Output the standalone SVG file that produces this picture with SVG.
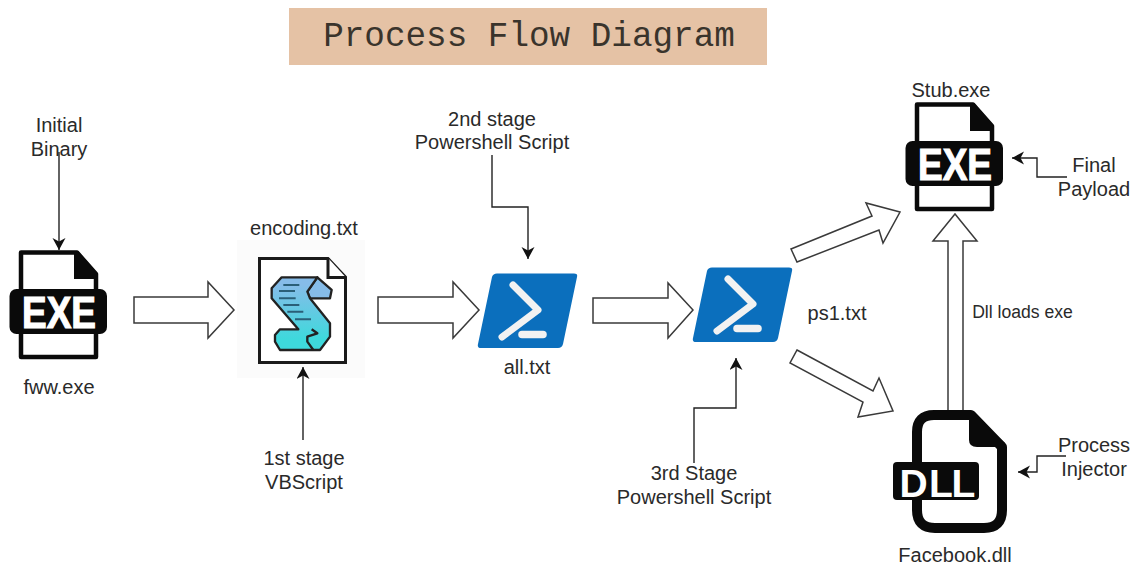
<svg xmlns="http://www.w3.org/2000/svg" xmlns:xlink="http://www.w3.org/1999/xlink" width="1137" height="565" viewBox="0 0 1137 565">
<style>
text{font-family:"Liberation Sans",Arial,sans-serif;font-size:20px;fill:#2a2a2a;text-anchor:middle}
.title{font-family:"Liberation Mono","Courier New",monospace;font-size:34.3px;fill:#3a342c}
.block{fill:#fff;stroke:#3a3a3a;stroke-width:1.5;stroke-linejoin:miter}
.thin{fill:none;stroke:#222;stroke-width:1.4}
.badge{font-weight:bold;fill:#fff;font-family:"Liberation Sans",Arial,sans-serif}
</style>
<defs>
<marker id="ah" markerUnits="userSpaceOnUse" markerWidth="14" markerHeight="14" refX="12" refY="6.500" orient="auto">
<path d="M0 0L12 6.500L0 13L3.500 6.500Z" fill="#111"/>
</marker>
<linearGradient id="sg" x1="0" y1="0" x2="0" y2="1">
<stop offset="0.1" stop-color="#86bce9"/><stop offset="0.85" stop-color="#3ed9dc"/>
</linearGradient>
<g id="exeicon">
<path d="M21 252.500H77L96 274V357H21Z" fill="#fff" stroke="#0a0a0a" stroke-width="4.500" stroke-linejoin="round"/>
<path d="M74 251H78L98 274V279H74Z" fill="#0a0a0a"/>
<rect x="9.500" y="289" width="97.500" height="45" rx="7" fill="#0a0a0a"/>
<text class="badge" x="59" y="328" style="font-size:45px;fill:#fff;font-weight:bold;stroke:#fff;stroke-width:1.2" textLength="74" lengthAdjust="spacingAndGlyphs">EXE</text>
</g>
<g id="psicon">
<path d="M497 273.500H574Q578 273.500 577 277L563 344Q562 348 558 348H481Q477 348 478 344L492 277Q493 273.500 497 273.500Z" fill="#0b6fbd"/>
<path d="M513 285L538 310L502 337" fill="none" stroke="#f2f2f2" stroke-width="7" stroke-linecap="round" stroke-linejoin="round"/>
<path d="M522 334.500H543" fill="none" stroke="#f2f2f2" stroke-width="7.500" stroke-linecap="round"/>
</g>
</defs>
<rect width="1137" height="565" fill="#fff"/>
<g id="title">
<rect x="289" y="8" width="478" height="57" fill="#e5c2a5"/>
<text class="title" x="529" y="46">Process Flow Diagram</text>
</g>
<g id="fww">
<use href="#exeicon"/>
<text x="59" y="394">fww.exe</text>
<text x="59" y="132">Initial</text>
<text x="59" y="156">Binary</text>
</g>
<g id="encoding">
<rect x="237" y="240" width="128" height="138" fill="#fbfbfb"/>
<path d="M259.500 258.500H328L345.500 277V362.500H259.500Z" fill="#fff" stroke="#1a1a1a" stroke-width="3"/>
<path d="M328 258V277.500H346" fill="#fff" stroke="#1a1a1a" stroke-width="3"/>
<g transform="translate(230 230) scale(.3333)" stroke="#222" stroke-width="7" stroke-linejoin="round">
<path d="M262 142L305 180L300 205H240L232 185Z" fill="#86bce9"/>
<path d="M155 142H262L232 185L240 205L300 280V320L270 360H150L135 335V315L150 298H205L125 205V175Z" fill="url(#sg)"/>
<path d="M245 298L262 310L232 320V335L250 360" fill="none"/>
<path d="M160 165H208M147 183H195M147 205H197M160 225H208M172 245H220M195 268H243" fill="none" stroke="#2a5f78" stroke-width="6"/>
</g>
<text x="304" y="235">encoding.txt</text>
<text x="304" y="465">1st stage</text>
<text x="304" y="489">VBScript</text>
</g>
<g id="all">
<use href="#psicon"/>
<text x="492" y="126">2nd stage</text>
<text x="492" y="149">Powershell Script</text>
<text x="527" y="374">all.txt</text>
</g>
<g id="ps1">
<use href="#psicon" transform="translate(215 -6)"/>
<text x="837" y="320">ps1.txt</text>
<text x="694" y="480">3rd Stage</text>
<text x="694" y="504">Powershell Script</text>
</g>
<g id="stub">
<use href="#exeicon" transform="translate(896 -148)"/>
<text x="951" y="97">Stub.exe</text>
<text x="1094" y="172">Final</text>
<text x="1094" y="196">Payload</text>
<text x="1022.500" y="318" style="font-size:17.600px">Dll loads exe</text>
</g>
<g id="connectors">
<path class="block" d="M134 297H208V282L234 310L208 338V323H134Z"/>
<path class="block" d="M378 297H453V282L479 310L453 338V323H378Z"/>
<path class="block" d="M593 298H668V283L693 310L668 338V323H593Z"/>
<path class="block" d="M791 249L872 216L866 203L900 212L883 243L879 230L797 262Z"/>
<path class="block" d="M797 350L873 391L879 378L893 411L858 417L863 402L790 363Z"/>
<path class="block" d="M948 410V241H933L955 214L977 241H963V410"/>
<path class="thin" marker-end="url(#ah)" d="M59 152V250"/>
<path class="thin" marker-end="url(#ah)" d="M303 440V367"/>
<path class="thin" marker-end="url(#ah)" d="M492 155V207H528V259"/>
<path class="thin" marker-end="url(#ah)" d="M694 463V408H736V358"/>
<path class="thin" marker-end="url(#ah)" d="M1067 177H1037V158H1012"/>
<path class="thin" marker-end="url(#ah)" d="M1066 456H1037V472H1018"/>
</g>
<g id="facebook">
<path d="M934 415H971L1002 447V510Q1002 528 984 528H935Q917 528 917 510V432Q917 415 934 415Z" fill="#fff" stroke="#0a0a0a" stroke-width="10" stroke-linejoin="round"/>
<path d="M969 412L1005 443V447H977Q969 447 969 440Z" fill="#0a0a0a"/>
<rect x="893" y="462" width="86" height="38" rx="4" fill="#0a0a0a"/>
<text class="badge" x="899.500 929 951.500" y="496.500" style="font-size:39px;fill:#fff;font-weight:bold;text-anchor:start">DLL</text>
<text x="955" y="562">Facebook.dll</text>
<text x="1094" y="452">Process</text>
<text x="1094" y="476">Injector</text>
</g>
</svg>
